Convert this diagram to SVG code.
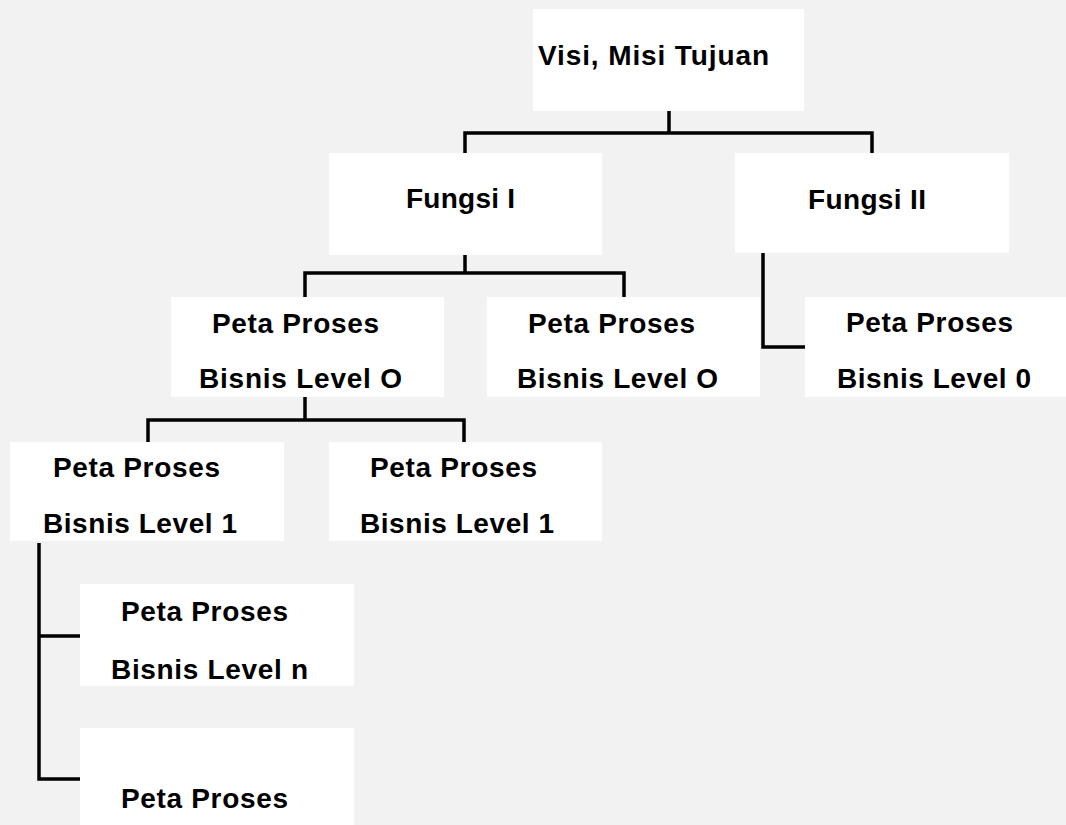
<svg xmlns="http://www.w3.org/2000/svg" width="1066" height="825" viewBox="0 0 1066 825">
<style>
.box{fill:#ffffff;stroke:none}
.t{font-family:"Liberation Sans",Arial,sans-serif;font-weight:bold;font-size:28px;fill:#000}
.c{fill:none;stroke:#000;stroke-width:3.5;stroke-linejoin:miter;stroke-linecap:butt}
</style>
<rect width="1066" height="825" fill="#f2f2f2"/>
<g id="connectors">
<path class="c" d="M669 111 V133 M465 153 V133 H872 V153"/>
<path class="c" d="M465 255 V273 M305 297 V273 H624 V297"/>
<path class="c" d="M763 253 V347 H805"/>
<path class="c" d="M305 397 V420 M148 442 V420 H464 V442"/>
<path class="c" d="M39 543 V779 H80 M39 636 H80"/>
</g>
<g id="visi">
<rect class="box" x="533" y="9" width="271" height="102"/>
<text class="t" x="538" y="65" textLength="231" lengthAdjust="spacing">Visi, Misi Tujuan</text>
</g>
<g id="fungsi1">
<rect class="box" x="329" y="153" width="273" height="102"/>
<text class="t" x="406" y="208" textLength="109" lengthAdjust="spacing">Fungsi I</text>
</g>
<g id="fungsi2">
<rect class="box" x="735" y="153" width="274" height="100"/>
<text class="t" x="808" y="209" textLength="118" lengthAdjust="spacing">Fungsi II</text>
</g>
<g id="l0a">
<rect class="box" x="171" y="297" width="273" height="100"/>
<text class="t" x="212" y="333" textLength="167" lengthAdjust="spacing">Peta Proses</text>
<text class="t" x="199" y="388" textLength="203" lengthAdjust="spacing">Bisnis Level O</text>
</g>
<g id="l0b">
<rect class="box" x="487" y="297" width="273" height="100"/>
<text class="t" x="528" y="333" textLength="167" lengthAdjust="spacing">Peta Proses</text>
<text class="t" x="517" y="388" textLength="201" lengthAdjust="spacing">Bisnis Level O</text>
</g>
<g id="l0c">
<rect class="box" x="805" y="297" width="273" height="100"/>
<text class="t" x="846" y="332" textLength="167" lengthAdjust="spacing">Peta Proses</text>
<text class="t" x="837" y="388" textLength="194" lengthAdjust="spacing">Bisnis Level 0</text>
</g>
<g id="l1a">
<rect class="box" x="10" y="442" width="274" height="99"/>
<text class="t" x="53" y="477" textLength="167" lengthAdjust="spacing">Peta Proses</text>
<text class="t" x="43" y="533" textLength="194" lengthAdjust="spacing">Bisnis Level 1</text>
</g>
<g id="l1b">
<rect class="box" x="329" y="442" width="273" height="99"/>
<text class="t" x="370" y="477" textLength="167" lengthAdjust="spacing">Peta Proses</text>
<text class="t" x="360" y="533" textLength="194" lengthAdjust="spacing">Bisnis Level 1</text>
</g>
<g id="ln">
<rect class="box" x="80" y="584" width="274" height="102"/>
<text class="t" x="121" y="621" textLength="167" lengthAdjust="spacing">Peta Proses</text>
<text class="t" x="111" y="679" textLength="197" lengthAdjust="spacing">Bisnis Level n</text>
</g>
<g id="last">
<rect class="box" x="80" y="728" width="274" height="100"/>
<text class="t" x="121" y="808" textLength="167" lengthAdjust="spacing">Peta Proses</text>
</g>
</svg>
